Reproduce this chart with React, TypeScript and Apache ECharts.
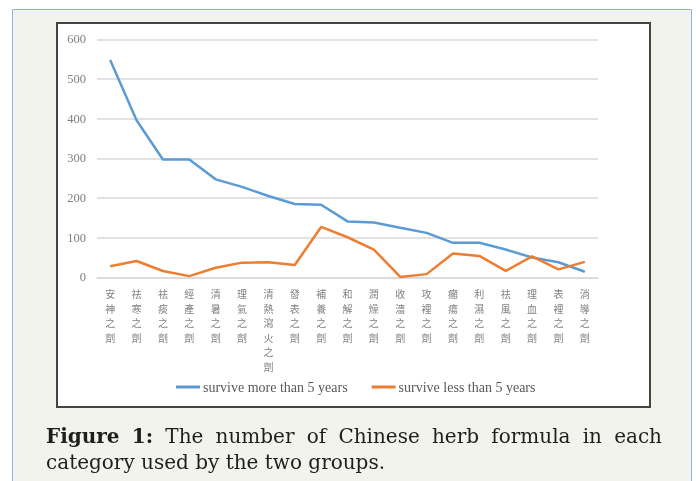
import React, { useEffect, useRef } from "react";
import * as echarts from "echarts";

const categories = [
  "安神之劑", "祛寒之劑", "祛痰之劑", "經產之劑", "清暑之劑", "理氣之劑",
  "清熱瀉火之劑", "發表之劑", "補養之劑", "和解之劑", "潤燥之劑", "收濇之劑",
  "攻裡之劑", "癰瘍之劑", "利濕之劑", "祛風之劑", "理血之劑", "表裡之劑", "消導之劑",
];
const moreThan5 = [548, 396, 297, 297, 247, 228, 205, 185, 183, 141, 138, 125, 112, 87, 87, 70, 50, 38, 14];
const lessThan5 = [28, 41, 16, 3, 24, 37, 38, 31, 127, 101, 70, 1, 8, 60, 54, 16, 53, 20, 39];
const seriesNames = ["survive more than 5 years", "survive less than 5 years"];
const yTicks = [0, 100, 200, 300, 400, 500, 600];

const captionLine1 = ["Figure", "1:", "The", "number", "of", "Chinese", "herb", "formula", "in", "each"];
const captionBoldCount = 2;
const captionLine2 = "category used by the two groups.";

const CAP_FONT = "'DejaVu Serif', serif";
const CAP_SIZE = 20;

function measure(text: string, bold: boolean): number {
  const c = document.createElement("canvas").getContext("2d");
  if (!c) return text.length * CAP_SIZE * 0.55;
  c.font = `${bold ? "bold " : ""}${CAP_SIZE}px ${CAP_FONT}`;
  return c.measureText(text).width;
}

export default function App() {
  const ref = useRef<HTMLDivElement>(null);
  useEffect(() => {
    if (!ref.current) return;
    document.body.style.margin = "0";
    const chart = echarts.init(ref.current, null, { renderer: "svg" });

    const colLeft = 46;
    const colRight = 662;
    const widths = captionLine1.map((w, i) => measure(w, i < captionBoldCount));
    const total = widths.reduce((a, b) => a + b, 0);
    const gap = (colRight - colLeft - total) / (captionLine1.length - 1);
    let xPos = colLeft;
    const captionWords = captionLine1.map((w, i) => {
      const el = {
        type: "text",
        x: xPos,
        y: 436,
        style: {
          text: w,
          font: `${i < captionBoldCount ? "bold " : ""}${CAP_SIZE}px ${CAP_FONT}`,
          fill: "#1e1e1e",
          verticalAlign: "middle",
        },
      };
      xPos += widths[i] + gap;
      return el;
    });

    chart.setOption({
      animation: false,
      textStyle: { fontFamily: "'Liberation Serif', serif" },
      graphic: [
        {
          type: "rect",
          z: -10,
          shape: { x: 12.5, y: 9.5, width: 679, height: 480 },
          style: { fill: "#f3f3ee", stroke: "#8fb3e0", lineWidth: 1 },
        },
        {
          type: "rect",
          z: -9,
          shape: { x: 57, y: 23, width: 593, height: 384 },
          style: { fill: "#ffffff", stroke: "#444", lineWidth: 2 },
        },
        ...captionWords,
        {
          type: "text",
          x: colLeft,
          y: 462,
          style: {
            text: captionLine2,
            font: `${CAP_SIZE}px ${CAP_FONT}`,
            fill: "#1e1e1e",
            verticalAlign: "middle",
          },
        },
      ],
      legend: {
        left: 176,
        top: 380,
        padding: 0,
        icon: "rect",
        itemWidth: 24,
        itemHeight: 3,
        itemGap: 24,
        textStyle: { fontFamily: "'Liberation Serif', serif", fontSize: 14, color: "#595959", padding: [0, 0, 0, -2] },
        data: seriesNames,
      },
      grid: { left: 97, right: 98, top: 39.4, bottom: 203.7, containLabel: false },
      xAxis: {
        type: "category",
        data: categories,
        boundaryGap: true,
        axisLine: { show: true, lineStyle: { color: "#d9d9d9", width: 1.5 } },
        axisTick: { show: false },
        axisLabel: {
          interval: 0,
          margin: 9,
          fontFamily: "'Noto Sans CJK TC', sans-serif",
          fontSize: 10,
          lineHeight: 14.6,
          color: "#808080",
          formatter: (v: string) => v.split("").join("\n"),
        },
      },
      yAxis: {
        type: "value",
        min: yTicks[0],
        max: yTicks[yTicks.length - 1],
        interval: 100,
        axisLine: { show: false },
        axisTick: { show: false },
        splitLine: { lineStyle: { color: "#d9d9d9", width: 1.5 } },
        axisLabel: { margin: 11, fontSize: 12.5, color: "#808080", fontFamily: "'Liberation Serif', serif" },
      },
      series: [
        {
          name: seriesNames[0],
          type: "line",
          data: moreThan5,
          symbol: "none",
          lineStyle: { width: 2.5, color: "#5B9BD5" },
          itemStyle: { color: "#5B9BD5" },
        },
        {
          name: seriesNames[1],
          type: "line",
          data: lessThan5,
          symbol: "none",
          lineStyle: { width: 2.5, color: "#ED7D31" },
          itemStyle: { color: "#ED7D31" },
        },
      ],
    });
    return () => chart.dispose();
  }, []);
  return <div ref={ref} style={{ position: "fixed", left: 0, top: 0, width: 696, height: 481 }} />;
}
